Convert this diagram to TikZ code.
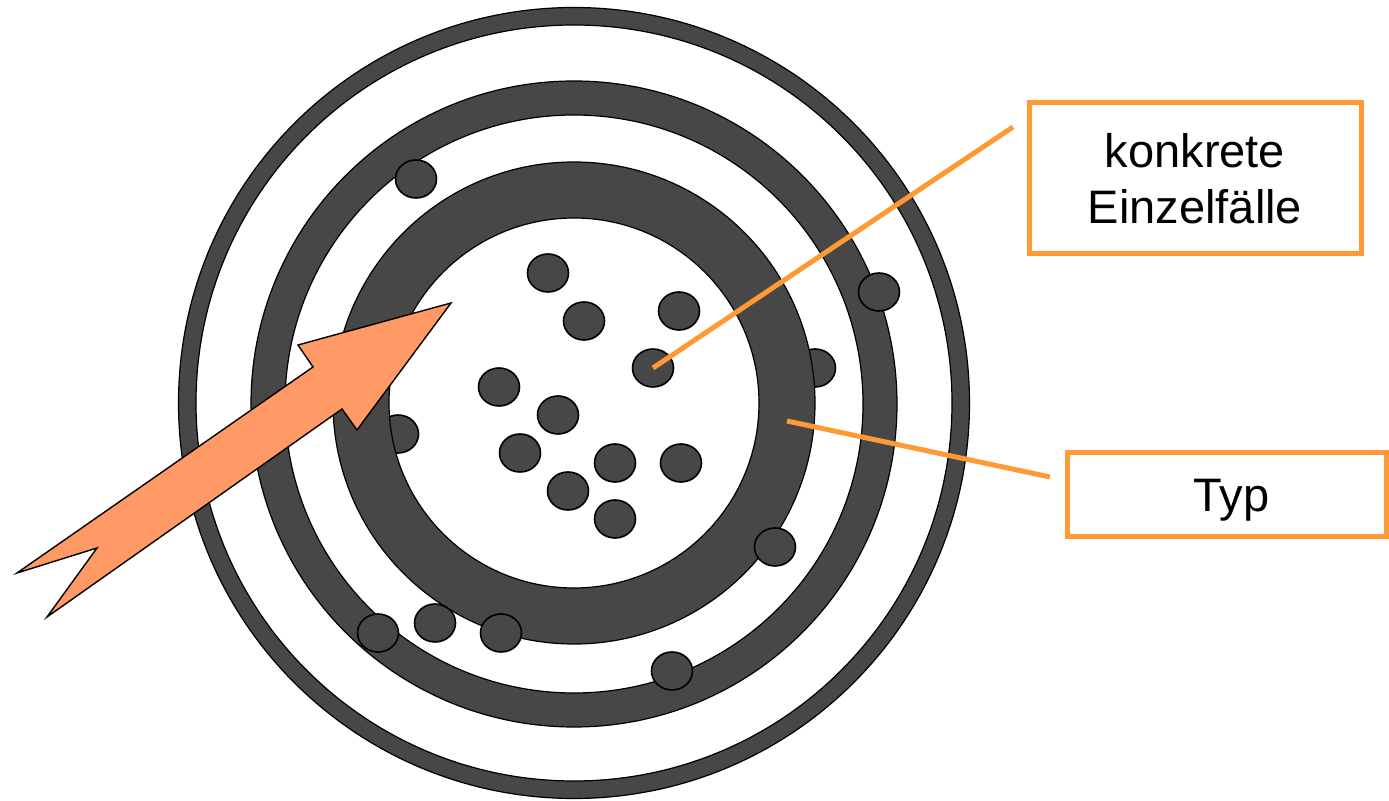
\documentclass[tikz,border=0pt]{standalone}
\usepackage{fontspec}
\setmainfont{Liberation Sans}
\usetikzlibrary{shapes.geometric}
\definecolor{ringgray}{HTML}{474747}
\definecolor{lineorange}{HTML}{FF9933}
\definecolor{arrowsalmon}{HTML}{FF9966}
\begin{document}
\begin{tikzpicture}[x=0.5pt,y=-0.5pt,
  ring/.style={fill=ringgray,draw=black,line width=0.6pt,even odd rule},
  dot/.style={ellipse,draw=black,line width=0.8pt,fill=ringgray,minimum width=20.5pt,minimum height=19pt,inner sep=0pt},
  labelbox/.style={draw=lineorange,line width=2.5pt,fill=white,font=\fontsize{23.5}{28}\selectfont,align=center,inner sep=0pt},
  leader/.style={draw=lineorange,line width=2.5pt}]
\useasboundingbox (0,0) rectangle (1389,801);
% outer ring
\path[ring] (574,403) circle[radius=197.75pt] (574,403) circle[radius=189pt];
% second ring
\path[ring] (574,404) circle[radius=161.5pt] (574,404) circle[radius=144.5pt];
% dots behind third ring
\node[dot] (b1) at (815,368) {};
\node[dot] (b2) at (398,434) {};
% third ring
\path[ring] (574,403) circle[radius=120.5pt] (574,403) circle[radius=92.5pt];
% dots on the rings
\node[dot] (r1) at (416,179) {};
\node[dot] (r2) at (879,292) {};
\node[dot] (r3) at (775,547) {};
\node[dot] (r4) at (672,671) {};
\node[dot] (r5) at (378,633) {};
\node[dot] (r6) at (435,623) {};
\node[dot] (r7) at (501,633) {};
% inner dots
\node[dot] (i1) at (548,273) {};
\node[dot] (i2) at (584,321) {};
\node[dot] (i3) at (679,311) {};
\node[dot] (i4) at (653,368) {};
\node[dot] (i5) at (499,387) {};
\node[dot] (i6) at (558,415) {};
\node[dot] (i7) at (520,453) {};
\node[dot] (i8) at (615,463) {};
\node[dot] (i9) at (681,463) {};
\node[dot] (i10) at (568,491) {};
\node[dot] (i11) at (615,519) {};
% arrow
\draw[fill=arrowsalmon,draw=black,line width=0.7pt,line join=miter]
  (451,303) -- (357,430) -- (342,409) -- (47,617) -- (97,548) -- (17,573)
  -- (313,367) -- (298,345) -- cycle;
% labels
\node[labelbox,minimum width=166pt,minimum height=75.5pt] (einzel) at (1195,178.5) {konkrete\\Einzelfälle};
\node[labelbox,minimum width=159.5pt,minimum height=42pt,text depth=0pt] (typ) at (1226.5,495) {\hspace*{5pt}Typ};
\coordinate (e1) at (1013,127);
\coordinate (t0) at (787,421);
\coordinate (t1) at (1050,477);
\draw[leader] (i4.center) -- (e1);
\draw[leader] (t0) -- (t1);
\end{tikzpicture}
\end{document}
